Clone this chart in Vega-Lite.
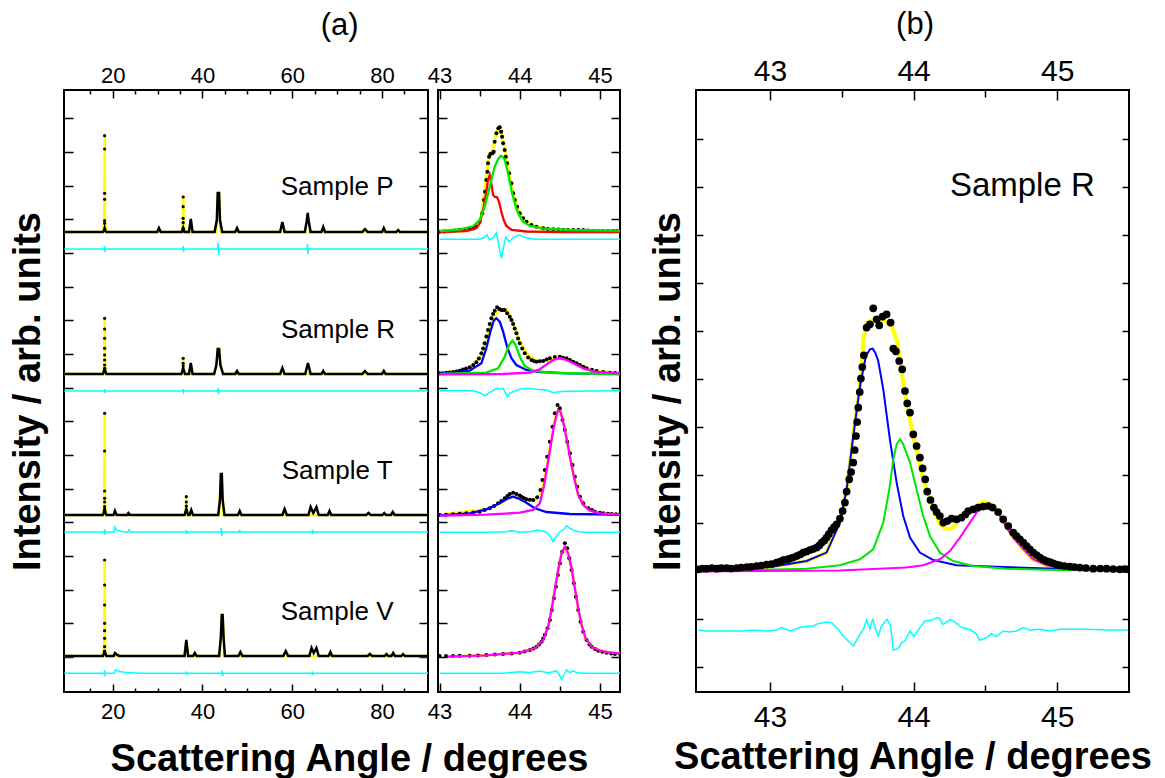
{
"$schema": "https://vega.github.io/schema/vega-lite/v6.json",
"background": "white",
"padding": {"left": 8, "top": 8, "right": 5, "bottom": 0},
"config": {
  "font": "Liberation Sans",
  "view": {"stroke": "black", "strokeWidth": 2},
  "axis": {"domain": false, "grid": false, "tickColor": "black", "tickWidth": 1.5, "labelColor": "black", "labelFont": "Liberation Sans", "labelOverlap": false, "labelFlush": false, "zindex": 1, "titleFont": "Liberation Sans", "titleFontWeight": "bold", "titleColor": "black", "titleFontSize": 38}
},
"datasets": {
"a1fit": [
{"g":"P","x":9.2,"y":460},{"g":"P","x":17.9,"y":460},{"g":"P","x":18.1,"y":472},{"g":"P","x":18.2,"y":556},{"g":"P","x":18.3,"y":472},{"g":"P","x":18.5,"y":460},{"g":"P","x":35.4,"y":460},{"g":"P","x":35.6,"y":472},{"g":"P","x":35.7,"y":497},{"g":"P","x":35.8,"y":472},{"g":"P","x":36.0,"y":460},{"g":"P","x":43.1,"y":460},{"g":"P","x":43.4,"y":499},{"g":"P","x":43.7,"y":499},{"g":"P","x":44.0,"y":460},{"g":"P","x":90.25,"y":460},
{"g":"R","x":9.2,"y":318},{"g":"R","x":17.9,"y":318},{"g":"R","x":18.1,"y":328},{"g":"R","x":18.2,"y":375},{"g":"R","x":18.3,"y":328},{"g":"R","x":18.5,"y":318},{"g":"R","x":35.4,"y":318},{"g":"R","x":35.6,"y":324},{"g":"R","x":35.7,"y":334},{"g":"R","x":35.8,"y":324},{"g":"R","x":36.0,"y":318},{"g":"R","x":42.6,"y":318},{"g":"R","x":43.1,"y":327},{"g":"R","x":43.4,"y":343},{"g":"R","x":43.7,"y":343},{"g":"R","x":44.0,"y":327},{"g":"R","x":44.6,"y":318},{"g":"R","x":90.25,"y":318},
{"g":"T","x":9.2,"y":177},{"g":"T","x":17.9,"y":177},{"g":"T","x":18.1,"y":188},{"g":"T","x":18.2,"y":279},{"g":"T","x":18.3,"y":188},{"g":"T","x":18.5,"y":177},{"g":"T","x":36.1,"y":177},{"g":"T","x":36.3,"y":183},{"g":"T","x":36.4,"y":195},{"g":"T","x":36.5,"y":183},{"g":"T","x":36.7,"y":177},{"g":"T","x":43.7,"y":177},{"g":"T","x":44.1,"y":218},{"g":"T","x":44.3,"y":218},{"g":"T","x":44.7,"y":177},{"g":"T","x":90.25,"y":177},
{"g":"V","x":9.2,"y":36},{"g":"V","x":17.9,"y":36},{"g":"V","x":18.1,"y":45},{"g":"V","x":18.2,"y":132},{"g":"V","x":18.3,"y":45},{"g":"V","x":18.5,"y":36},{"g":"V","x":36.0,"y":36},{"g":"V","x":36.4,"y":52},{"g":"V","x":36.8,"y":36},{"g":"V","x":43.9,"y":36},{"g":"V","x":44.3,"y":77},{"g":"V","x":44.5,"y":77},{"g":"V","x":44.9,"y":36},{"g":"V","x":90.25,"y":36}
],
"a1obs": [
{"g":"P","x":9.2,"y":460},{"g":"P","x":17.8,"y":460},{"g":"P","x":18.0,"y":461},{"g":"P","x":18.2,"y":464},{"g":"P","x":18.4,"y":461},{"g":"P","x":18.6,"y":460},{"g":"P","x":29.9,"y":460},{"g":"P","x":30.3,"y":464},{"g":"P","x":30.7,"y":460},{"g":"P","x":35.4,"y":460},{"g":"P","x":35.7,"y":464},{"g":"P","x":36.0,"y":460},{"g":"P","x":37.0,"y":460},{"g":"P","x":37.4,"y":473},{"g":"P","x":37.8,"y":460},{"g":"P","x":42.7,"y":460},{"g":"P","x":43.2,"y":472},{"g":"P","x":43.4,"y":499},{"g":"P","x":43.7,"y":499},{"g":"P","x":43.9,"y":472},{"g":"P","x":44.4,"y":460},{"g":"P","x":47.3,"y":460},{"g":"P","x":47.7,"y":464},{"g":"P","x":48.1,"y":460},{"g":"P","x":57.3,"y":460},{"g":"P","x":57.8,"y":470},{"g":"P","x":58.3,"y":460},{"g":"P","x":62.8,"y":460},{"g":"P","x":63.2,"y":470},{"g":"P","x":63.45,"y":479},{"g":"P","x":63.7,"y":470},{"g":"P","x":64.1,"y":460},{"g":"P","x":66.5,"y":460},{"g":"P","x":66.9,"y":465},{"g":"P","x":67.3,"y":460},{"g":"P","x":75.6,"y":460},{"g":"P","x":76.2,"y":463},{"g":"P","x":76.8,"y":460},{"g":"P","x":80.0,"y":460},{"g":"P","x":80.4,"y":464},{"g":"P","x":80.8,"y":460},{"g":"P","x":83.2,"y":460},{"g":"P","x":83.6,"y":462},{"g":"P","x":84.0,"y":460},{"g":"P","x":90.25,"y":460},
{"g":"R","x":9.2,"y":318},{"g":"R","x":17.8,"y":318},{"g":"R","x":18.0,"y":320},{"g":"R","x":18.2,"y":324},{"g":"R","x":18.4,"y":320},{"g":"R","x":18.6,"y":318},{"g":"R","x":35.3,"y":318},{"g":"R","x":35.7,"y":324},{"g":"R","x":36.1,"y":318},{"g":"R","x":37.0,"y":318},{"g":"R","x":37.4,"y":329},{"g":"R","x":37.8,"y":318},{"g":"R","x":42.6,"y":318},{"g":"R","x":43.1,"y":327},{"g":"R","x":43.4,"y":343},{"g":"R","x":43.7,"y":343},{"g":"R","x":44.0,"y":327},{"g":"R","x":44.6,"y":318},{"g":"R","x":47.3,"y":318},{"g":"R","x":47.7,"y":321},{"g":"R","x":48.1,"y":318},{"g":"R","x":57.3,"y":318},{"g":"R","x":57.8,"y":324},{"g":"R","x":58.3,"y":318},{"g":"R","x":62.9,"y":318},{"g":"R","x":63.5,"y":329},{"g":"R","x":64.1,"y":318},{"g":"R","x":66.5,"y":318},{"g":"R","x":66.9,"y":321},{"g":"R","x":67.3,"y":318},{"g":"R","x":75.6,"y":318},{"g":"R","x":76.2,"y":321},{"g":"R","x":76.8,"y":318},{"g":"R","x":80.0,"y":318},{"g":"R","x":80.4,"y":321},{"g":"R","x":80.8,"y":318},{"g":"R","x":90.25,"y":318},
{"g":"T","x":9.2,"y":177},{"g":"T","x":17.8,"y":177},{"g":"T","x":18.0,"y":179},{"g":"T","x":18.2,"y":184},{"g":"T","x":18.4,"y":179},{"g":"T","x":18.6,"y":177},{"g":"T","x":20.2,"y":177},{"g":"T","x":20.5,"y":181},{"g":"T","x":20.9,"y":177},{"g":"T","x":23.2,"y":177},{"g":"T","x":23.5,"y":179},{"g":"T","x":23.9,"y":177},{"g":"T","x":36.0,"y":177},{"g":"T","x":36.4,"y":183},{"g":"T","x":36.8,"y":177},{"g":"T","x":37.1,"y":177},{"g":"T","x":37.5,"y":182},{"g":"T","x":37.9,"y":177},{"g":"T","x":43.5,"y":177},{"g":"T","x":43.9,"y":192},{"g":"T","x":44.1,"y":218},{"g":"T","x":44.3,"y":218},{"g":"T","x":44.5,"y":192},{"g":"T","x":44.9,"y":177},{"g":"T","x":47.9,"y":177},{"g":"T","x":48.3,"y":181},{"g":"T","x":48.7,"y":177},{"g":"T","x":57.8,"y":177},{"g":"T","x":58.3,"y":183},{"g":"T","x":58.8,"y":177},{"g":"T","x":63.6,"y":177},{"g":"T","x":64.1,"y":185},{"g":"T","x":64.7,"y":179},{"g":"T","x":65.4,"y":185},{"g":"T","x":65.9,"y":177},{"g":"T","x":67.9,"y":177},{"g":"T","x":68.3,"y":181},{"g":"T","x":68.7,"y":177},{"g":"T","x":76.5,"y":177},{"g":"T","x":77.0,"y":179},{"g":"T","x":77.5,"y":177},{"g":"T","x":80.1,"y":177},{"g":"T","x":80.5,"y":179},{"g":"T","x":80.9,"y":177},{"g":"T","x":82.0,"y":177},{"g":"T","x":82.4,"y":180},{"g":"T","x":82.8,"y":177},{"g":"T","x":90.25,"y":177},
{"g":"V","x":9.2,"y":36},{"g":"V","x":17.8,"y":36},{"g":"V","x":18.0,"y":38},{"g":"V","x":18.2,"y":42},{"g":"V","x":18.4,"y":38},{"g":"V","x":18.6,"y":36},{"g":"V","x":20.2,"y":36},{"g":"V","x":20.5,"y":39},{"g":"V","x":21.0,"y":37},{"g":"V","x":21.5,"y":36},{"g":"V","x":36.0,"y":36},{"g":"V","x":36.4,"y":52},{"g":"V","x":36.8,"y":36},{"g":"V","x":37.9,"y":36},{"g":"V","x":38.3,"y":39},{"g":"V","x":38.7,"y":36},{"g":"V","x":43.7,"y":36},{"g":"V","x":44.1,"y":55},{"g":"V","x":44.3,"y":77},{"g":"V","x":44.5,"y":77},{"g":"V","x":44.7,"y":55},{"g":"V","x":45.0,"y":36},{"g":"V","x":48.0,"y":36},{"g":"V","x":48.45,"y":40},{"g":"V","x":48.9,"y":36},{"g":"V","x":58.0,"y":36},{"g":"V","x":58.55,"y":41},{"g":"V","x":59.1,"y":36},{"g":"V","x":63.8,"y":36},{"g":"V","x":64.3,"y":44},{"g":"V","x":64.8,"y":39},{"g":"V","x":65.4,"y":44},{"g":"V","x":65.9,"y":36},{"g":"V","x":68.1,"y":36},{"g":"V","x":68.5,"y":40},{"g":"V","x":68.9,"y":36},{"g":"V","x":76.8,"y":36},{"g":"V","x":77.3,"y":38},{"g":"V","x":77.8,"y":36},{"g":"V","x":80.6,"y":36},{"g":"V","x":81.0,"y":38},{"g":"V","x":81.4,"y":36},{"g":"V","x":82.1,"y":36},{"g":"V","x":82.5,"y":39},{"g":"V","x":82.9,"y":36},{"g":"V","x":84.3,"y":36},{"g":"V","x":84.7,"y":38},{"g":"V","x":85.1,"y":36},{"g":"V","x":90.25,"y":36}
],
"a1pts": [
{"x":18.2,"y":556.3},{"x":18.2,"y":543},{"x":18.2,"y":498.7},{"x":18.2,"y":492.7},{"x":18.2,"y":471.3},{"x":18.2,"y":468.7},
{"x":35.7,"y":495},{"x":35.7,"y":485.3},{"x":35.7,"y":473.7},{"x":35.7,"y":469.3},{"x":35.7,"y":463.7},
{"x":18.2,"y":373.7},{"x":18.2,"y":363},{"x":18.2,"y":353.7},{"x":18.2,"y":343.7},{"x":18.2,"y":337},{"x":18.2,"y":332},{"x":18.2,"y":327},{"x":18.2,"y":323.7},
{"x":35.7,"y":333.7},{"x":35.7,"y":328.7},{"x":35.7,"y":326},
{"x":18.2,"y":278.7},{"x":18.2,"y":241},{"x":18.2,"y":201},{"x":18.2,"y":193.7},{"x":18.2,"y":190},{"x":18.2,"y":185.3},{"x":18.2,"y":182},
{"x":36.4,"y":195.3},{"x":36.4,"y":190},{"x":36.4,"y":186},{"x":36.4,"y":182},
{"x":18.2,"y":132},{"x":18.2,"y":107},{"x":18.2,"y":87},{"x":18.2,"y":68.7},{"x":18.2,"y":61.3},{"x":18.2,"y":53.7},{"x":18.2,"y":45.3}
],
"a1dif": [
{"g":"P","x":9.2,"y":443},{"g":"P","x":18.1,"y":443},{"g":"P","x":18.2,"y":446},{"g":"P","x":18.25,"y":440},{"g":"P","x":18.35,"y":443},{"g":"P","x":35.6,"y":443},{"g":"P","x":35.7,"y":446},{"g":"P","x":35.8,"y":440},{"g":"P","x":35.9,"y":443},{"g":"P","x":43.4,"y":443},{"g":"P","x":43.5,"y":449},{"g":"P","x":43.6,"y":437},{"g":"P","x":43.7,"y":443},{"g":"P","x":63.3,"y":443},{"g":"P","x":63.4,"y":448},{"g":"P","x":63.5,"y":438},{"g":"P","x":63.6,"y":443},{"g":"P","x":90.25,"y":443},
{"g":"R","x":9.2,"y":301},{"g":"R","x":18.1,"y":301},{"g":"R","x":18.2,"y":303},{"g":"R","x":18.3,"y":299},{"g":"R","x":18.4,"y":301},{"g":"R","x":35.6,"y":301},{"g":"R","x":35.7,"y":303},{"g":"R","x":35.8,"y":300},{"g":"R","x":35.9,"y":301},{"g":"R","x":43.4,"y":301},{"g":"R","x":43.5,"y":304},{"g":"R","x":43.6,"y":298},{"g":"R","x":43.7,"y":301},{"g":"R","x":90.25,"y":301},
{"g":"T","x":9.2,"y":160},{"g":"T","x":18.1,"y":160},{"g":"T","x":18.2,"y":163},{"g":"T","x":18.3,"y":157},{"g":"T","x":18.4,"y":160},{"g":"T","x":20.3,"y":160},{"g":"T","x":20.5,"y":165},{"g":"T","x":20.8,"y":162},{"g":"T","x":21.5,"y":161},{"g":"T","x":22.5,"y":160},{"g":"T","x":23.3,"y":160},{"g":"T","x":23.6,"y":162},{"g":"T","x":24.0,"y":160},{"g":"T","x":36.3,"y":160},{"g":"T","x":36.4,"y":162},{"g":"T","x":36.5,"y":158},{"g":"T","x":36.6,"y":160},{"g":"T","x":44.1,"y":160},{"g":"T","x":44.2,"y":164},{"g":"T","x":44.3,"y":156},{"g":"T","x":44.4,"y":160},{"g":"T","x":48.2,"y":160},{"g":"T","x":48.3,"y":162},{"g":"T","x":48.4,"y":160},{"g":"T","x":64.4,"y":160},{"g":"T","x":64.5,"y":162},{"g":"T","x":64.6,"y":158},{"g":"T","x":64.7,"y":160},{"g":"T","x":90.25,"y":160},
{"g":"V","x":9.2,"y":18.7},{"g":"V","x":18.1,"y":18.7},{"g":"V","x":18.2,"y":22},{"g":"V","x":18.3,"y":15.5},{"g":"V","x":18.4,"y":18.7},{"g":"V","x":20.3,"y":18.7},{"g":"V","x":20.6,"y":22},{"g":"V","x":21.5,"y":20.5},{"g":"V","x":23,"y":19.5},{"g":"V","x":26,"y":18.7},{"g":"V","x":36.3,"y":18.7},{"g":"V","x":36.4,"y":20.5},{"g":"V","x":36.5,"y":17},{"g":"V","x":36.6,"y":18.7},{"g":"V","x":44.3,"y":18.7},{"g":"V","x":44.4,"y":21.5},{"g":"V","x":44.5,"y":16},{"g":"V","x":44.6,"y":18.7},{"g":"V","x":64.4,"y":18.7},{"g":"V","x":64.5,"y":20.5},{"g":"V","x":64.6,"y":17},{"g":"V","x":64.7,"y":18.7},{"g":"V","x":90.25,"y":18.7}
],
"a1lab": [{"x":70,"y":497,"t":"Sample P"},{"x":70.2,"y":354,"t":"Sample R"},{"x":70,"y":213,"t":"Sample T"},{"x":70,"y":72,"t":"Sample V"}],
"a1ttl": [{"x":70.58,"y":657,"t":"(a)"}],
"a2fit": [
{"g":"P","x":43.0,"y":460},{"g":"P","x":43.25,"y":461},{"g":"P","x":43.45,"y":464},{"g":"P","x":43.52,"y":475},{"g":"P","x":43.56,"y":500},{"g":"P","x":43.6,"y":528},{"g":"P","x":43.62,"y":537},{"g":"P","x":43.65,"y":540},{"g":"P","x":43.69,"y":552},{"g":"P","x":43.72,"y":562},{"g":"P","x":43.745,"y":565},{"g":"P","x":43.78,"y":556},{"g":"P","x":43.82,"y":540},{"g":"P","x":43.87,"y":518},{"g":"P","x":43.92,"y":498},{"g":"P","x":43.97,"y":484},{"g":"P","x":44.05,"y":472},{"g":"P","x":44.2,"y":465},{"g":"P","x":44.5,"y":462},{"g":"P","x":45.25,"y":461},
{"g":"R","x":43.0,"y":318.7},{"g":"R","x":43.375,"y":322.7},{"g":"R","x":43.542,"y":338.7},{"g":"R","x":43.625,"y":365.3},{"g":"R","x":43.687,"y":377},{"g":"R","x":43.75,"y":382},{"g":"R","x":43.833,"y":382},{"g":"R","x":43.883,"y":375.3},{"g":"R","x":43.937,"y":363.7},{"g":"R","x":44.0,"y":350.3},{"g":"R","x":44.083,"y":338.7},{"g":"R","x":44.187,"y":332},{"g":"R","x":44.292,"y":331},{"g":"R","x":44.417,"y":333.7},{"g":"R","x":44.5,"y":334.7},{"g":"R","x":44.625,"y":332},{"g":"R","x":44.792,"y":325.3},{"g":"R","x":44.958,"y":320.7},{"g":"R","x":45.25,"y":318.7},
{"g":"T","x":43.0,"y":177.3},{"g":"T","x":43.583,"y":182.7},{"g":"T","x":43.75,"y":188.7},{"g":"T","x":43.917,"y":196},{"g":"T","x":44.083,"y":192},{"g":"T","x":44.187,"y":191.3},{"g":"T","x":44.25,"y":197},{"g":"T","x":44.3,"y":208.7},{"g":"T","x":44.342,"y":227},{"g":"T","x":44.383,"y":247},{"g":"T","x":44.425,"y":267},{"g":"T","x":44.458,"y":278.7},{"g":"T","x":44.483,"y":282.7},{"g":"T","x":44.512,"y":280.3},{"g":"T","x":44.55,"y":268.7},{"g":"T","x":44.592,"y":251.3},{"g":"T","x":44.633,"y":232.7},{"g":"T","x":44.675,"y":216},{"g":"T","x":44.729,"y":198},{"g":"T","x":44.792,"y":188},{"g":"T","x":44.875,"y":182},{"g":"T","x":45.0,"y":178.7},{"g":"T","x":45.25,"y":177.3},
{"g":"V","x":43.104,"y":35.3},{"g":"V","x":43.583,"y":36.7},{"g":"V","x":44.0,"y":39.3},{"g":"V","x":44.187,"y":43.7},{"g":"V","x":44.292,"y":52},{"g":"V","x":44.354,"y":65.3},{"g":"V","x":44.396,"y":82},{"g":"V","x":44.437,"y":102},{"g":"V","x":44.479,"y":122},{"g":"V","x":44.521,"y":138.7},{"g":"V","x":44.562,"y":145.3},{"g":"V","x":44.604,"y":138.7},{"g":"V","x":44.646,"y":123.7},{"g":"V","x":44.687,"y":103.7},{"g":"V","x":44.729,"y":83.7},{"g":"V","x":44.771,"y":67},{"g":"V","x":44.821,"y":53.7},{"g":"V","x":44.896,"y":45.3},{"g":"V","x":45.0,"y":41.3},{"g":"V","x":45.125,"y":39.3},{"g":"V","x":45.25,"y":38.7}
],
"a2obs": [
{"x":43.0,"y":460.3},{"x":43.06,"y":460.5},{"x":43.125,"y":461},{"x":43.19,"y":461.5},{"x":43.25,"y":462},{"x":43.31,"y":462},{"x":43.375,"y":462.7},{"x":43.42,"y":463.5},{"x":43.458,"y":465.3},{"x":43.5,"y":470.3},{"x":43.533,"y":478.7},{"x":43.554,"y":492},{"x":43.567,"y":500.3},{"x":43.583,"y":512},{"x":43.596,"y":520.3},{"x":43.604,"y":528.7},{"x":43.617,"y":535.3},{"x":43.633,"y":538},{"x":43.658,"y":538.7},{"x":43.675,"y":540.3},{"x":43.687,"y":550.3},{"x":43.708,"y":558.7},{"x":43.733,"y":563.7},{"x":43.75,"y":564.7},{"x":43.767,"y":560.3},{"x":43.779,"y":555.3},{"x":43.792,"y":548.7},{"x":43.812,"y":542},{"x":43.825,"y":535.3},{"x":43.842,"y":528.7},{"x":43.867,"y":518.7},{"x":43.896,"y":508.7},{"x":43.917,"y":498.7},{"x":43.937,"y":492},{"x":43.967,"y":485.3},{"x":44.0,"y":478.7},{"x":44.042,"y":473.7},{"x":44.083,"y":470.3},{"x":44.146,"y":467},{"x":44.208,"y":465.3},{"x":44.292,"y":463.7},{"x":44.35,"y":463},{"x":44.417,"y":462.7},{"x":44.48,"y":462.5},{"x":44.542,"y":462},{"x":44.6,"y":462},{"x":44.667,"y":462},{"x":44.73,"y":462},{"x":44.792,"y":462},{"x":44.85,"y":461.5},{"x":44.917,"y":461.3},{"x":44.98,"y":461},{"x":45.042,"y":461},{"x":45.1,"y":461},{"x":45.167,"y":461},{"x":45.21,"y":461},{"x":45.25,"y":461},
{"x":43.0,"y":318.7},{"x":43.04,"y":318.7},{"x":43.083,"y":319.3},{"x":43.125,"y":319.5},{"x":43.17,"y":320},{"x":43.21,"y":320.5},{"x":43.25,"y":321.3},{"x":43.29,"y":322.5},{"x":43.33,"y":323.5},{"x":43.375,"y":324.7},{"x":43.42,"y":327},{"x":43.458,"y":329.7},{"x":43.49,"y":333.5},{"x":43.521,"y":338.7},{"x":43.542,"y":343.5},{"x":43.562,"y":348.7},{"x":43.583,"y":355.5},{"x":43.604,"y":362},{"x":43.625,"y":368},{"x":43.646,"y":373.7},{"x":43.667,"y":378},{"x":43.687,"y":381.3},{"x":43.717,"y":384.7},{"x":43.745,"y":383},{"x":43.771,"y":382},{"x":43.792,"y":382},{"x":43.812,"y":382},{"x":43.842,"y":378.7},{"x":43.875,"y":375.3},{"x":43.896,"y":372},{"x":43.917,"y":368},{"x":43.937,"y":363.5},{"x":43.958,"y":358.7},{"x":43.979,"y":353.5},{"x":44.0,"y":348.7},{"x":44.03,"y":343.5},{"x":44.062,"y":338.7},{"x":44.104,"y":334.5},{"x":44.146,"y":332},{"x":44.175,"y":331},{"x":44.208,"y":330.3},{"x":44.25,"y":330.7},{"x":44.292,"y":331},{"x":44.333,"y":332.5},{"x":44.375,"y":333.7},{"x":44.437,"y":335},{"x":44.5,"y":335.3},{"x":44.54,"y":334.3},{"x":44.583,"y":333.7},{"x":44.625,"y":332},{"x":44.667,"y":330.3},{"x":44.708,"y":328.7},{"x":44.75,"y":327},{"x":44.792,"y":325.3},{"x":44.833,"y":323.7},{"x":44.9,"y":322.3},{"x":44.958,"y":321},{"x":45.04,"y":320},{"x":45.125,"y":319.3},{"x":45.19,"y":319},{"x":45.25,"y":318.7},
{"x":43.0,"y":177},{"x":43.08,"y":177.3},{"x":43.167,"y":177.7},{"x":43.25,"y":178.2},{"x":43.333,"y":178.7},{"x":43.42,"y":179.5},{"x":43.5,"y":180.3},{"x":43.56,"y":182},{"x":43.625,"y":183.7},{"x":43.68,"y":186},{"x":43.729,"y":188.7},{"x":43.77,"y":191},{"x":43.812,"y":193.7},{"x":43.845,"y":196},{"x":43.875,"y":198},{"x":43.917,"y":199.3},{"x":43.958,"y":198},{"x":44.0,"y":196.5},{"x":44.021,"y":195.3},{"x":44.05,"y":194},{"x":44.083,"y":192.7},{"x":44.125,"y":192.2},{"x":44.167,"y":192},{"x":44.217,"y":194.7},{"x":44.258,"y":202},{"x":44.283,"y":212},{"x":44.312,"y":222},{"x":44.342,"y":235.3},{"x":44.375,"y":250.3},{"x":44.408,"y":265.3},{"x":44.437,"y":278.7},{"x":44.471,"y":287},{"x":44.5,"y":283.7},{"x":44.533,"y":272},{"x":44.562,"y":262},{"x":44.592,"y":250.3},{"x":44.625,"y":238.7},{"x":44.658,"y":227},{"x":44.687,"y":215.3},{"x":44.717,"y":205.3},{"x":44.75,"y":195.3},{"x":44.792,"y":188.7},{"x":44.854,"y":183.7},{"x":44.9,"y":182},{"x":44.937,"y":180.3},{"x":45.0,"y":179.3},{"x":45.042,"y":178.7},{"x":45.1,"y":178.3},{"x":45.146,"y":178},{"x":45.2,"y":177.8},{"x":45.25,"y":177.7},
{"x":43.0,"y":36},{"x":43.08,"y":36},{"x":43.167,"y":36},{"x":43.25,"y":36.2},{"x":43.375,"y":36.3},{"x":43.48,"y":36.6},{"x":43.583,"y":37},{"x":43.69,"y":37.5},{"x":43.792,"y":38},{"x":43.9,"y":38.6},{"x":44.0,"y":39.3},{"x":44.06,"y":40.5},{"x":44.125,"y":42},{"x":44.17,"y":43.5},{"x":44.208,"y":45.3},{"x":44.24,"y":47.5},{"x":44.271,"y":50.3},{"x":44.292,"y":53.5},{"x":44.312,"y":57},{"x":44.346,"y":63.7},{"x":44.375,"y":72},{"x":44.4,"y":82},{"x":44.425,"y":93.7},{"x":44.45,"y":105.3},{"x":44.475,"y":117},{"x":44.5,"y":128.7},{"x":44.529,"y":140.3},{"x":44.562,"y":148.7},{"x":44.592,"y":143.7},{"x":44.617,"y":133.7},{"x":44.646,"y":122},{"x":44.675,"y":108.7},{"x":44.7,"y":95.3},{"x":44.729,"y":82},{"x":44.758,"y":70.3},{"x":44.792,"y":60.3},{"x":44.833,"y":52},{"x":44.87,"y":47.5},{"x":44.896,"y":45.3},{"x":44.94,"y":43},{"x":44.979,"y":41.3},{"x":45.03,"y":40.2},{"x":45.083,"y":39.3},{"x":45.14,"y":38.6},{"x":45.187,"y":38},{"x":45.25,"y":38}
],
"a2cmp": [
{"k":"red","g":"P","x":43.0,"y":460},{"k":"red","g":"P","x":43.33,"y":461},{"k":"red","g":"P","x":43.46,"y":464},{"k":"red","g":"P","x":43.5,"y":468.7},{"k":"red","g":"P","x":43.55,"y":485},{"k":"red","g":"P","x":43.583,"y":500},{"k":"red","g":"P","x":43.604,"y":512},{"k":"red","g":"P","x":43.625,"y":517},{"k":"red","g":"P","x":43.646,"y":508},{"k":"red","g":"P","x":43.667,"y":497},{"k":"red","g":"P","x":43.69,"y":495},{"k":"red","g":"P","x":43.717,"y":494.7},{"k":"red","g":"P","x":43.742,"y":490},{"k":"red","g":"P","x":43.771,"y":480},{"k":"red","g":"P","x":43.8,"y":472},{"k":"red","g":"P","x":43.833,"y":466},{"k":"red","g":"P","x":43.9,"y":462},{"k":"red","g":"P","x":44.083,"y":460.5},{"k":"red","g":"P","x":44.5,"y":460},{"k":"red","g":"P","x":45.25,"y":460},
{"k":"grn","g":"P","x":43.0,"y":461},{"k":"grn","g":"P","x":43.25,"y":462.5},{"k":"grn","g":"P","x":43.42,"y":466},{"k":"grn","g":"P","x":43.5,"y":472},{"k":"grn","g":"P","x":43.562,"y":485.3},{"k":"grn","g":"P","x":43.625,"y":505.3},{"k":"grn","g":"P","x":43.687,"y":525.3},{"k":"grn","g":"P","x":43.73,"y":533},{"k":"grn","g":"P","x":43.762,"y":536},{"k":"grn","g":"P","x":43.79,"y":535},{"k":"grn","g":"P","x":43.812,"y":532},{"k":"grn","g":"P","x":43.854,"y":518.7},{"k":"grn","g":"P","x":43.896,"y":502},{"k":"grn","g":"P","x":43.937,"y":488.7},{"k":"grn","g":"P","x":43.979,"y":478.7},{"k":"grn","g":"P","x":44.042,"y":470.3},{"k":"grn","g":"P","x":44.125,"y":466},{"k":"grn","g":"P","x":44.292,"y":463.3},{"k":"grn","g":"P","x":44.625,"y":462},{"k":"grn","g":"P","x":45.25,"y":461.3},
{"k":"blu","g":"R","x":43.0,"y":318},{"k":"blu","g":"R","x":43.375,"y":321.3},{"k":"blu","g":"R","x":43.521,"y":328.7},{"k":"blu","g":"R","x":43.583,"y":343.7},{"k":"blu","g":"R","x":43.633,"y":360.3},{"k":"blu","g":"R","x":43.675,"y":371.3},{"k":"blu","g":"R","x":43.708,"y":373.7},{"k":"blu","g":"R","x":43.75,"y":370.3},{"k":"blu","g":"R","x":43.792,"y":360.3},{"k":"blu","g":"R","x":43.842,"y":345.3},{"k":"blu","g":"R","x":43.896,"y":333.7},{"k":"blu","g":"R","x":43.958,"y":327},{"k":"blu","g":"R","x":44.083,"y":322},{"k":"blu","g":"R","x":44.25,"y":320},{"k":"blu","g":"R","x":44.625,"y":318.7},{"k":"blu","g":"R","x":45.25,"y":318},
{"k":"grn","g":"R","x":43.0,"y":318},{"k":"grn","g":"R","x":43.583,"y":319.3},{"k":"grn","g":"R","x":43.729,"y":323.7},{"k":"grn","g":"R","x":43.812,"y":335.3},{"k":"grn","g":"R","x":43.867,"y":347},{"k":"grn","g":"R","x":43.908,"y":351.3},{"k":"grn","g":"R","x":43.95,"y":347},{"k":"grn","g":"R","x":44.0,"y":335.3},{"k":"grn","g":"R","x":44.062,"y":326},{"k":"grn","g":"R","x":44.167,"y":321.3},{"k":"grn","g":"R","x":44.417,"y":319},{"k":"grn","g":"R","x":45.25,"y":318},
{"k":"mag","g":"R","x":43.0,"y":317.7},{"k":"mag","g":"R","x":43.792,"y":318},{"k":"mag","g":"R","x":44.125,"y":319.3},{"k":"mag","g":"R","x":44.25,"y":322.7},{"k":"mag","g":"R","x":44.354,"y":328.7},{"k":"mag","g":"R","x":44.437,"y":332.7},{"k":"mag","g":"R","x":44.5,"y":333.7},{"k":"mag","g":"R","x":44.583,"y":332},{"k":"mag","g":"R","x":44.667,"y":328.7},{"k":"mag","g":"R","x":44.792,"y":323.7},{"k":"mag","g":"R","x":44.958,"y":320},{"k":"mag","g":"R","x":45.25,"y":318.7},
{"k":"blu","g":"T","x":43.0,"y":176.7},{"k":"blu","g":"T","x":43.375,"y":178.7},{"k":"blu","g":"T","x":43.583,"y":182.7},{"k":"blu","g":"T","x":43.75,"y":188.7},{"k":"blu","g":"T","x":43.854,"y":193.7},{"k":"blu","g":"T","x":43.917,"y":195.3},{"k":"blu","g":"T","x":43.979,"y":193.7},{"k":"blu","g":"T","x":44.083,"y":189.3},{"k":"blu","g":"T","x":44.187,"y":183.7},{"k":"blu","g":"T","x":44.333,"y":180},{"k":"blu","g":"T","x":44.625,"y":178},{"k":"blu","g":"T","x":45.25,"y":177.3},
{"k":"mag","g":"T","x":43.0,"y":176.3},{"k":"mag","g":"T","x":43.583,"y":177.3},{"k":"mag","g":"T","x":44.0,"y":179.3},{"k":"mag","g":"T","x":44.167,"y":182},{"k":"mag","g":"T","x":44.25,"y":188.7},{"k":"mag","g":"T","x":44.3,"y":205.3},{"k":"mag","g":"T","x":44.342,"y":225.3},{"k":"mag","g":"T","x":44.383,"y":245.3},{"k":"mag","g":"T","x":44.425,"y":265.3},{"k":"mag","g":"T","x":44.458,"y":277},{"k":"mag","g":"T","x":44.479,"y":282},{"k":"mag","g":"T","x":44.508,"y":280.3},{"k":"mag","g":"T","x":44.55,"y":267},{"k":"mag","g":"T","x":44.592,"y":250.3},{"k":"mag","g":"T","x":44.633,"y":232},{"k":"mag","g":"T","x":44.675,"y":215.3},{"k":"mag","g":"T","x":44.729,"y":197},{"k":"mag","g":"T","x":44.792,"y":187},{"k":"mag","g":"T","x":44.875,"y":181.3},{"k":"mag","g":"T","x":45.0,"y":178.7},{"k":"mag","g":"T","x":45.25,"y":177.3},
{"k":"mag","g":"V","x":43.104,"y":35.3},{"k":"mag","g":"V","x":43.583,"y":36.7},{"k":"mag","g":"V","x":44.0,"y":39.3},{"k":"mag","g":"V","x":44.187,"y":43.7},{"k":"mag","g":"V","x":44.292,"y":52},{"k":"mag","g":"V","x":44.354,"y":65.3},{"k":"mag","g":"V","x":44.396,"y":82},{"k":"mag","g":"V","x":44.437,"y":102},{"k":"mag","g":"V","x":44.479,"y":122},{"k":"mag","g":"V","x":44.521,"y":138.7},{"k":"mag","g":"V","x":44.562,"y":145.3},{"k":"mag","g":"V","x":44.604,"y":138.7},{"k":"mag","g":"V","x":44.646,"y":123.7},{"k":"mag","g":"V","x":44.687,"y":103.7},{"k":"mag","g":"V","x":44.729,"y":83.7},{"k":"mag","g":"V","x":44.771,"y":67},{"k":"mag","g":"V","x":44.821,"y":53.7},{"k":"mag","g":"V","x":44.896,"y":45.3},{"k":"mag","g":"V","x":45.0,"y":41.3},{"k":"mag","g":"V","x":45.125,"y":39.3},{"k":"mag","g":"V","x":45.25,"y":38.7}
],
"a2dif": [
{"g":"P","x":43.0,"y":452.7},{"g":"P","x":43.5,"y":452.7},{"g":"P","x":43.562,"y":454.7},{"g":"P","x":43.592,"y":457},{"g":"P","x":43.625,"y":452},{"g":"P","x":43.667,"y":454},{"g":"P","x":43.708,"y":459.3},{"g":"P","x":43.742,"y":445.3},{"g":"P","x":43.771,"y":433.7},{"g":"P","x":43.8,"y":445.3},{"g":"P","x":43.825,"y":454.7},{"g":"P","x":43.867,"y":450.3},{"g":"P","x":43.925,"y":454.7},{"g":"P","x":43.992,"y":457},{"g":"P","x":44.083,"y":454},{"g":"P","x":44.187,"y":452.7},{"g":"P","x":45.25,"y":452.7},
{"g":"R","x":43.0,"y":301.3},{"g":"R","x":43.417,"y":301.3},{"g":"R","x":43.5,"y":299.3},{"g":"R","x":43.562,"y":296.3},{"g":"R","x":43.625,"y":299.3},{"g":"R","x":43.675,"y":302},{"g":"R","x":43.717,"y":303.7},{"g":"R","x":43.75,"y":302.7},{"g":"R","x":43.792,"y":303.7},{"g":"R","x":43.825,"y":298.7},{"g":"R","x":43.846,"y":295.3},{"g":"R","x":43.875,"y":298.7},{"g":"R","x":43.917,"y":300.3},{"g":"R","x":44.0,"y":302.7},{"g":"R","x":44.083,"y":303.7},{"g":"R","x":44.208,"y":302.7},{"g":"R","x":44.333,"y":302},{"g":"R","x":44.417,"y":299.3},{"g":"R","x":44.5,"y":300.3},{"g":"R","x":44.583,"y":300.7},{"g":"R","x":45.25,"y":301.3},
{"g":"T","x":43.0,"y":159.7},{"g":"T","x":43.583,"y":159.7},{"g":"T","x":43.833,"y":160.3},{"g":"T","x":43.896,"y":161.3},{"g":"T","x":44.0,"y":159.7},{"g":"T","x":44.125,"y":160.3},{"g":"T","x":44.229,"y":162},{"g":"T","x":44.312,"y":160.3},{"g":"T","x":44.354,"y":158.7},{"g":"T","x":44.387,"y":154.7},{"g":"T","x":44.417,"y":150.3},{"g":"T","x":44.45,"y":155.3},{"g":"T","x":44.5,"y":160.3},{"g":"T","x":44.55,"y":162.7},{"g":"T","x":44.583,"y":166.3},{"g":"T","x":44.625,"y":163.7},{"g":"T","x":44.667,"y":162},{"g":"T","x":44.729,"y":160.3},{"g":"T","x":44.833,"y":159.7},{"g":"T","x":45.25,"y":159.7},
{"g":"V","x":43.0,"y":18.7},{"g":"V","x":43.792,"y":18.7},{"g":"V","x":44.0,"y":20.3},{"g":"V","x":44.125,"y":19.5},{"g":"V","x":44.25,"y":21},{"g":"V","x":44.354,"y":19.3},{"g":"V","x":44.417,"y":20.3},{"g":"V","x":44.458,"y":21.3},{"g":"V","x":44.492,"y":17},{"g":"V","x":44.521,"y":12.7},{"g":"V","x":44.55,"y":17},{"g":"V","x":44.583,"y":22},{"g":"V","x":44.625,"y":19.3},{"g":"V","x":44.667,"y":21.3},{"g":"V","x":44.708,"y":19.3},{"g":"V","x":44.792,"y":18.7},{"g":"V","x":45.25,"y":18.7}
],
"bobs": [
{"x":42.501,"y":122.7},{"x":42.53,"y":123.5},{"x":42.559,"y":123.3},{"x":42.595,"y":124},{"x":42.629,"y":123.3},{"x":42.66,"y":123.8},{"x":42.698,"y":124},{"x":42.73,"y":123.5},{"x":42.768,"y":124},{"x":42.8,"y":124.5},{"x":42.838,"y":125},{"x":42.87,"y":125.2},{"x":42.907,"y":126},{"x":42.94,"y":126.5},{"x":42.977,"y":127.4},{"x":43.01,"y":128},{"x":43.046,"y":129.4},{"x":43.07,"y":130.5},{"x":43.093,"y":132},{"x":43.115,"y":132.5},{"x":43.139,"y":133.4},{"x":43.16,"y":134.5},{"x":43.186,"y":136},{"x":43.21,"y":137.5},{"x":43.232,"y":139.4},{"x":43.255,"y":140.5},{"x":43.278,"y":142},{"x":43.3,"y":143},{"x":43.325,"y":144.4},{"x":43.343,"y":146.5},{"x":43.36,"y":149.4},{"x":43.378,"y":151.5},{"x":43.394,"y":154.4},{"x":43.41,"y":158},{"x":43.429,"y":162},{"x":43.446,"y":165},{"x":43.464,"y":167.7},{"x":43.487,"y":173.4},{"x":43.506,"y":181},{"x":43.522,"y":189.4},{"x":43.534,"y":200.4},{"x":43.552,"y":212.7},{"x":43.565,"y":220},{"x":43.58,"y":229.4},{"x":43.59,"y":242},{"x":43.599,"y":256},{"x":43.607,"y":270},{"x":43.615,"y":284.4},{"x":43.625,"y":300},{"x":43.633,"y":313.4},{"x":43.643,"y":325},{"x":43.654,"y":336.7},{"x":43.673,"y":364.4},{"x":43.696,"y":367.7},{"x":43.719,"y":383.7},{"x":43.743,"y":372.7},{"x":43.761,"y":366.7},{"x":43.784,"y":375.4},{"x":43.812,"y":377.7},{"x":43.84,"y":369.4},{"x":43.859,"y":343.4},{"x":43.877,"y":340.7},{"x":43.9,"y":331},{"x":43.921,"y":322.7},{"x":43.94,"y":301},{"x":43.956,"y":288.7},{"x":43.975,"y":279.4},{"x":43.998,"y":257.7},{"x":44.021,"y":246},{"x":44.044,"y":234.4},{"x":44.063,"y":223.7},{"x":44.081,"y":212.7},{"x":44.095,"y":200.4},{"x":44.118,"y":192},{"x":44.142,"y":184.4},{"x":44.16,"y":180},{"x":44.183,"y":176},{"x":44.207,"y":169.4},{"x":44.234,"y":171},{"x":44.265,"y":173.4},{"x":44.299,"y":172.7},{"x":44.334,"y":174.4},{"x":44.36,"y":177.5},{"x":44.381,"y":181},{"x":44.415,"y":182.7},{"x":44.45,"y":184.4},{"x":44.485,"y":185.4},{"x":44.52,"y":186},{"x":44.55,"y":184.4},{"x":44.589,"y":180},{"x":44.624,"y":172.7},{"x":44.659,"y":166},{"x":44.694,"y":159.4},{"x":44.717,"y":156},{"x":44.74,"y":152.7},{"x":44.764,"y":149.4},{"x":44.787,"y":146},{"x":44.81,"y":142.7},{"x":44.833,"y":139.4},{"x":44.856,"y":137},{"x":44.88,"y":134.4},{"x":44.903,"y":132.5},{"x":44.926,"y":131},{"x":44.95,"y":129.8},{"x":44.972,"y":128.7},{"x":44.995,"y":127.5},{"x":45.019,"y":126.7},{"x":45.05,"y":126},{"x":45.088,"y":125.4},{"x":45.12,"y":125},{"x":45.158,"y":124.4},{"x":45.2,"y":124},{"x":45.251,"y":123.3},{"x":45.3,"y":123.5},{"x":45.344,"y":123.3},{"x":45.39,"y":123},{"x":45.436,"y":122.7},{"x":45.47,"y":122.9},{"x":45.494,"y":122.7}
],
"bfit": [
{"x":42.485,"y":121},{"x":43.023,"y":125.4},{"x":43.255,"y":131},{"x":43.394,"y":139.4},{"x":43.487,"y":172.7},{"x":43.534,"y":202.7},{"x":43.58,"y":256},{"x":43.627,"y":306},{"x":43.65,"y":352.7},{"x":43.673,"y":369.4},{"x":43.719,"y":372},{"x":43.789,"y":372},{"x":43.847,"y":366},{"x":43.882,"y":352.7},{"x":43.917,"y":319.4},{"x":43.951,"y":289.4},{"x":43.998,"y":256},{"x":44.067,"y":212.7},{"x":44.137,"y":182.7},{"x":44.183,"y":167.7},{"x":44.23,"y":162.7},{"x":44.276,"y":164.4},{"x":44.323,"y":172.7},{"x":44.392,"y":182.7},{"x":44.485,"y":190},{"x":44.532,"y":188.7},{"x":44.578,"y":182.7},{"x":44.624,"y":172.7},{"x":44.694,"y":154.4},{"x":44.764,"y":142.7},{"x":44.833,"y":132.7},{"x":44.926,"y":126.7},{"x":45.065,"y":123.3},{"x":45.228,"y":122},{"x":45.5,"y":121.7}
],
"bcmp": [
{"k":"blu","x":42.485,"y":121},{"k":"blu","x":43.023,"y":125.4},{"k":"blu","x":43.255,"y":131},{"k":"blu","x":43.394,"y":139.4},{"k":"blu","x":43.487,"y":169.4},{"k":"blu","x":43.534,"y":202.7},{"k":"blu","x":43.58,"y":256},{"k":"blu","x":43.627,"y":306},{"k":"blu","x":43.668,"y":336},{"k":"blu","x":43.696,"y":342.7},{"k":"blu","x":43.715,"y":343.4},{"k":"blu","x":43.733,"y":339.4},{"k":"blu","x":43.754,"y":331},{"k":"blu","x":43.789,"y":302.7},{"k":"blu","x":43.835,"y":252.7},{"k":"blu","x":43.882,"y":209.4},{"k":"blu","x":43.928,"y":176},{"k":"blu","x":43.975,"y":154.4},{"k":"blu","x":44.044,"y":139.4},{"k":"blu","x":44.137,"y":132},{"k":"blu","x":44.299,"y":126.7},{"k":"blu","x":44.532,"y":125.4},{"k":"blu","x":44.996,"y":123.3},{"k":"blu","x":45.5,"y":122.7},
{"k":"grn","x":42.485,"y":121},{"k":"grn","x":43.255,"y":123.3},{"k":"grn","x":43.487,"y":126.7},{"k":"grn","x":43.627,"y":132.7},{"k":"grn","x":43.719,"y":142.7},{"k":"grn","x":43.789,"y":169.4},{"k":"grn","x":43.831,"y":202.7},{"k":"grn","x":43.859,"y":232.7},{"k":"grn","x":43.882,"y":247.7},{"k":"grn","x":43.905,"y":252.7},{"k":"grn","x":43.928,"y":247.7},{"k":"grn","x":43.975,"y":229.4},{"k":"grn","x":44.021,"y":202.7},{"k":"grn","x":44.067,"y":176},{"k":"grn","x":44.114,"y":156},{"k":"grn","x":44.183,"y":139.4},{"k":"grn","x":44.276,"y":131},{"k":"grn","x":44.415,"y":126},{"k":"grn","x":44.648,"y":123.3},{"k":"grn","x":44.996,"y":122},{"k":"grn","x":45.5,"y":121.7},
{"k":"mag","x":42.485,"y":120.5},{"k":"mag","x":43.487,"y":121.5},{"k":"mag","x":43.951,"y":124.4},{"k":"mag","x":44.067,"y":126.7},{"k":"mag","x":44.183,"y":132.7},{"k":"mag","x":44.253,"y":141},{"k":"mag","x":44.323,"y":154.4},{"k":"mag","x":44.392,"y":169.4},{"k":"mag","x":44.439,"y":179.4},{"k":"mag","x":44.485,"y":186},{"k":"mag","x":44.52,"y":187.7},{"k":"mag","x":44.555,"y":186},{"k":"mag","x":44.601,"y":176},{"k":"mag","x":44.648,"y":164.4},{"k":"mag","x":44.694,"y":154.4},{"k":"mag","x":44.764,"y":142.7},{"k":"mag","x":44.833,"y":132.7},{"k":"mag","x":44.926,"y":126.7},{"k":"mag","x":45.065,"y":123.3},{"k":"mag","x":45.228,"y":122},{"k":"mag","x":45.5,"y":121.7}
],
"bdif": [
{"x":42.501,"y":62},{"x":42.559,"y":61},{"x":42.629,"y":61},{"x":42.698,"y":61},{"x":42.791,"y":61},{"x":42.884,"y":61.7},{"x":42.977,"y":61},{"x":43.046,"y":62},{"x":43.081,"y":64.4},{"x":43.139,"y":61},{"x":43.209,"y":64.4},{"x":43.255,"y":65.4},{"x":43.302,"y":66},{"x":43.336,"y":68.4},{"x":43.394,"y":70},{"x":43.429,"y":69.4},{"x":43.476,"y":62.7},{"x":43.51,"y":56},{"x":43.545,"y":51},{"x":43.58,"y":46},{"x":43.627,"y":57.7},{"x":43.65,"y":62.7},{"x":43.673,"y":72},{"x":43.696,"y":62.7},{"x":43.715,"y":73.4},{"x":43.731,"y":64.4},{"x":43.754,"y":56},{"x":43.777,"y":66},{"x":43.817,"y":72.7},{"x":43.84,"y":66},{"x":43.859,"y":42},{"x":43.893,"y":43.4},{"x":43.917,"y":49.4},{"x":43.94,"y":51},{"x":43.975,"y":61},{"x":44.002,"y":55.4},{"x":44.044,"y":64.4},{"x":44.079,"y":71},{"x":44.125,"y":71.7},{"x":44.16,"y":74.4},{"x":44.183,"y":73.4},{"x":44.202,"y":67.7},{"x":44.258,"y":72.7},{"x":44.299,"y":68.7},{"x":44.334,"y":64.4},{"x":44.392,"y":62.7},{"x":44.439,"y":57.7},{"x":44.457,"y":51.7},{"x":44.508,"y":54.4},{"x":44.543,"y":58.4},{"x":44.578,"y":55.4},{"x":44.624,"y":61},{"x":44.671,"y":60},{"x":44.717,"y":61},{"x":44.764,"y":64.4},{"x":44.81,"y":62},{"x":44.88,"y":62.7},{"x":44.949,"y":61},{"x":45.019,"y":62.7},{"x":45.112,"y":62.7},{"x":45.204,"y":62.7},{"x":45.344,"y":62},{"x":45.494,"y":62}
],
"blab": [{"x":44.253,"y":495.7,"t":"Sample R"}],
"bttl": [{"x":44.01,"y":657.7,"t":"(b)"}]
},
"hconcat": [
 {
  "width": 364, "height": 602,
  "layer": [
   {"data": {"name": "a1fit"}, "mark": {"type": "line", "color": "#ffff00", "strokeWidth": 2.5, "clip": true},
    "encoding": {
     "x": {"field": "x", "type": "quantitative", "scale": {"domain": [9.15, 90.25], "nice": false, "zero": false}, "axis": {"orient": "bottom", "values": [20,40,60,80], "tickSize": -8, "labelPadding": 34, "labelFontSize": 22, "labelBaseline": "alphabetic", "title": "Scattering Angle / degrees", "titleX": 285, "titleY": 78, "titleBaseline": "alphabetic"}},
     "y": {"field": "y", "type": "quantitative", "scale": {"domain": [0, 602], "nice": false, "zero": false}, "axis": {"orient": "left", "values": [35,68.7,102.3,136,169.7,203.3,237,270.7,304.3,338,371.7,405.3,439,472.7,506.3,540,573.7], "tickSize": -9, "labels": false, "title": "Intensity / arb. units", "titleX": -25, "titleBaseline": "alphabetic"}},
     "detail": {"field": "g"}}},
   {"data": {"name": "a1obs"}, "mark": {"type": "line", "color": "black", "strokeWidth": 2.5, "clip": true},
    "encoding": {
     "x": {"field": "x", "type": "quantitative", "scale": {"domain": [9.15, 90.25], "nice": false, "zero": false}, "axis": {"orient": "top", "values": [20,40,60,80], "tickSize": -8, "labelPadding": 16, "labelFontSize": 22, "labelBaseline": "alphabetic", "title": null}},
     "y": {"field": "y", "type": "quantitative", "scale": {"domain": [0, 602], "nice": false, "zero": false}, "axis": {"orient": "right", "values": [35,68.7,102.3,136,169.7,203.3,237,270.7,304.3,338,371.7,405.3,439,472.7,506.3,540,573.7], "tickSize": -9, "labels": false, "title": null}},
     "detail": {"field": "g"}}},
   {"data": {"name": "a1pts"}, "mark": {"type": "point", "filled": true, "color": "black", "size": 10, "opacity": 1, "clip": true},
    "encoding": {
     "x": {"field": "x", "type": "quantitative", "scale": {"domain": [9.15, 90.25], "nice": false, "zero": false}, "axis": {"orient": "bottom", "values": [15,25,30,35,45,50,55,65,70,75,85], "tickSize": -4, "labels": false, "title": null}},
     "y": {"field": "y", "type": "quantitative", "scale": {"domain": [0, 602], "nice": false, "zero": false}, "axis": null}}},
   {"data": {"name": "a1dif"}, "mark": {"type": "line", "color": "#00ffff", "strokeWidth": 1.5, "clip": true},
    "encoding": {
     "x": {"field": "x", "type": "quantitative", "scale": {"domain": [9.15, 90.25], "nice": false, "zero": false}, "axis": {"orient": "top", "values": [15,25,30,35,45,50,55,65,70,75,85], "tickSize": -4, "labels": false, "title": null}},
     "y": {"field": "y", "type": "quantitative", "scale": {"domain": [0, 602], "nice": false, "zero": false}, "axis": null},
     "detail": {"field": "g"}}},
   {"data": {"name": "a1lab"}, "mark": {"type": "text", "fontSize": 26, "align": "center", "baseline": "alphabetic", "color": "black", "font": "Liberation Sans"},
    "encoding": {
     "x": {"field": "x", "type": "quantitative", "scale": {"domain": [9.15, 90.25], "nice": false, "zero": false}, "axis": null},
     "y": {"field": "y", "type": "quantitative", "scale": {"domain": [0, 602], "nice": false, "zero": false}, "axis": null},
     "text": {"field": "t"}}},
   {"data": {"name": "a1ttl"}, "mark": {"type": "text", "fontSize": 31, "align": "center", "baseline": "alphabetic", "color": "black", "font": "Liberation Sans"},
    "encoding": {
     "x": {"field": "x", "type": "quantitative", "scale": {"domain": [9.15, 90.25], "nice": false, "zero": false}, "axis": null},
     "y": {"field": "y", "type": "quantitative", "scale": {"domain": [0, 602], "nice": false, "zero": false}, "axis": null},
     "text": {"field": "t"}}}
  ],
  "resolve": {"axis": {"x": "independent", "y": "independent"}}
 },
 {
  "width": 182, "height": 602,
  "layer": [
   {"data": {"name": "a2fit"}, "mark": {"type": "line", "color": "#ffff00", "strokeWidth": 3, "clip": true},
    "encoding": {
     "x": {"field": "x", "type": "quantitative", "scale": {"domain": [42.98, 45.25], "nice": false, "zero": false}, "axis": {"orient": "bottom", "values": [43,44,45], "tickSize": -9, "labelPadding": 35, "labelFontSize": 22, "labelBaseline": "alphabetic", "title": null}},
     "y": {"field": "y", "type": "quantitative", "scale": {"domain": [0, 602], "nice": false, "zero": false}, "axis": {"orient": "left", "values": [35,68.7,102.3,136,169.7,203.3,237,270.7,304.3,338,371.7,405.3,439,472.7,506.3,540,573.7], "tickSize": -9, "labels": false, "title": null}},
     "detail": {"field": "g"}}},
   {"data": {"name": "a2obs"}, "mark": {"type": "point", "filled": true, "color": "black", "size": 16, "opacity": 1, "clip": true},
    "encoding": {
     "x": {"field": "x", "type": "quantitative", "scale": {"domain": [42.98, 45.25], "nice": false, "zero": false}, "axis": {"orient": "top", "values": [43,44,45], "tickSize": -9, "labelPadding": 17, "labelFontSize": 22, "labelBaseline": "alphabetic", "title": null}},
     "y": {"field": "y", "type": "quantitative", "scale": {"domain": [0, 602], "nice": false, "zero": false}, "axis": {"orient": "right", "values": [35,68.7,102.3,136,169.7,203.3,237,270.7,304.3,338,371.7,405.3,439,472.7,506.3,540,573.7], "tickSize": -9, "labels": false, "title": null}}}},
   {"data": {"name": "a2cmp"}, "mark": {"type": "line", "strokeWidth": 2.3, "clip": true},
    "encoding": {
     "x": {"field": "x", "type": "quantitative", "scale": {"domain": [42.98, 45.25], "nice": false, "zero": false}, "axis": {"orient": "bottom", "values": [43.5,44.5], "tickSize": -6, "labels": false, "title": null}},
     "y": {"field": "y", "type": "quantitative", "scale": {"domain": [0, 602], "nice": false, "zero": false}, "axis": null},
     "color": {"field": "k", "type": "nominal", "scale": {"domain": ["red","grn","blu","mag"], "range": ["#ff0000","#00e600","#0000ff","#ff00ff"]}, "legend": null},
     "detail": {"field": "g"}}},
   {"data": {"name": "a2dif"}, "mark": {"type": "line", "color": "#00ffff", "strokeWidth": 1.5, "clip": true},
    "encoding": {
     "x": {"field": "x", "type": "quantitative", "scale": {"domain": [42.98, 45.25], "nice": false, "zero": false}, "axis": {"orient": "top", "values": [43.5,44.5], "tickSize": -6, "labels": false, "title": null}},
     "y": {"field": "y", "type": "quantitative", "scale": {"domain": [0, 602], "nice": false, "zero": false}, "axis": null},
     "detail": {"field": "g"}}}
  ],
  "resolve": {"axis": {"x": "independent", "y": "independent"}}
 },
 {
  "width": 56, "height": 602,
  "view": {"stroke": null},
  "data": {"values": []},
  "mark": {"type": "point", "opacity": 0},
  "encoding": {}
 },
 {
  "width": 433, "height": 602,
  "layer": [
   {"data": {"name": "bfit"}, "mark": {"type": "line", "color": "#ffff00", "strokeWidth": 4, "clip": true},
    "encoding": {
     "x": {"field": "x", "type": "quantitative", "scale": {"domain": [42.485, 45.5], "nice": false, "zero": false}, "axis": {"orient": "bottom", "values": [43,44,45], "tickSize": -10, "labelPadding": 44, "labelFontSize": 30, "labelBaseline": "alphabetic", "title": "Scattering Angle / degrees", "titleY": 76, "titleBaseline": "alphabetic"}},
     "y": {"field": "y", "type": "quantitative", "scale": {"domain": [0, 602], "nice": false, "zero": false}, "axis": {"orient": "left", "values": [25.4,73.3,121.3,169.2,217.1,265.1,313,360.9,408.8,456.8,504.7,552.6], "tickSize": -7, "labels": false, "title": "Intensity / arb. units", "titleX": -17, "titleBaseline": "alphabetic"}}}},
   {"data": {"name": "bcmp"}, "mark": {"type": "line", "strokeWidth": 2, "clip": true},
    "encoding": {
     "x": {"field": "x", "type": "quantitative", "scale": {"domain": [42.485, 45.5], "nice": false, "zero": false}, "axis": {"orient": "bottom", "values": [43.5,44.5], "tickSize": -7, "labels": false, "title": null}},
     "y": {"field": "y", "type": "quantitative", "scale": {"domain": [0, 602], "nice": false, "zero": false}, "axis": null},
     "color": {"field": "k", "type": "nominal", "scale": {"domain": ["red","grn","blu","mag"], "range": ["#ff0000","#00e600","#0000ff","#ff00ff"]}, "legend": null}}},
   {"data": {"name": "bobs"}, "mark": {"type": "point", "filled": true, "color": "black", "size": 60, "opacity": 1, "clip": true},
    "encoding": {
     "x": {"field": "x", "type": "quantitative", "scale": {"domain": [42.485, 45.5], "nice": false, "zero": false}, "axis": {"orient": "top", "values": [43,44,45], "tickSize": -10, "labelPadding": 20, "labelFontSize": 30, "labelBaseline": "alphabetic", "title": null}},
     "y": {"field": "y", "type": "quantitative", "scale": {"domain": [0, 602], "nice": false, "zero": false}, "axis": {"orient": "right", "values": [25.4,73.3,121.3,169.2,217.1,265.1,313,360.9,408.8,456.8,504.7,552.6], "tickSize": -7, "labels": false, "title": null}}}},
   {"data": {"name": "bdif"}, "mark": {"type": "line", "color": "#00ffff", "strokeWidth": 1.5, "clip": true},
    "encoding": {
     "x": {"field": "x", "type": "quantitative", "scale": {"domain": [42.485, 45.5], "nice": false, "zero": false}, "axis": {"orient": "top", "values": [43.5,44.5], "tickSize": -7, "labels": false, "title": null}},
     "y": {"field": "y", "type": "quantitative", "scale": {"domain": [0, 602], "nice": false, "zero": false}, "axis": null}}},
   {"data": {"name": "blab"}, "mark": {"type": "text", "fontSize": 33, "align": "left", "baseline": "alphabetic", "color": "black", "font": "Liberation Sans"},
    "encoding": {
     "x": {"field": "x", "type": "quantitative", "scale": {"domain": [42.485, 45.5], "nice": false, "zero": false}, "axis": null},
     "y": {"field": "y", "type": "quantitative", "scale": {"domain": [0, 602], "nice": false, "zero": false}, "axis": null},
     "text": {"field": "t"}}},
   {"data": {"name": "bttl"}, "mark": {"type": "text", "fontSize": 31, "align": "center", "baseline": "alphabetic", "color": "black", "font": "Liberation Sans"},
    "encoding": {
     "x": {"field": "x", "type": "quantitative", "scale": {"domain": [42.485, 45.5], "nice": false, "zero": false}, "axis": null},
     "y": {"field": "y", "type": "quantitative", "scale": {"domain": [0, 602], "nice": false, "zero": false}, "axis": null},
     "text": {"field": "t"}}}
  ],
  "resolve": {"axis": {"x": "independent", "y": "independent"}}
 }
],
"spacing": 10,
"bounds": "flush"
}
